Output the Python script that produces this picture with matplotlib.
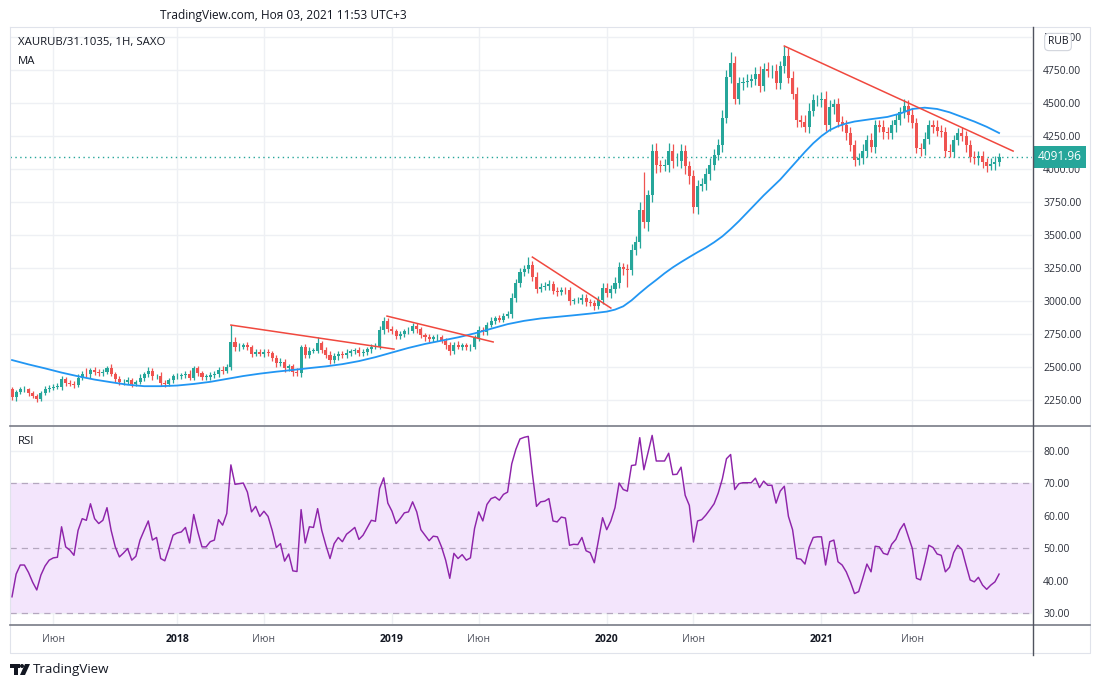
import numpy as np
import matplotlib
matplotlib.use("Agg")
import matplotlib.pyplot as plt
from matplotlib.patches import Rectangle, Polygon, Circle

plt.rcParams['font.family'] = ['Open Sans', 'DejaVu Sans']

# weekly closes, Apr 2017 - Nov 2021
closes = [
    2270, 2310, 2330, 2330, 2300, 2280, 2260, 2300, 2330, 2345,
    2350, 2350, 2410, 2380, 2375, 2365, 2420, 2450, 2445, 2480,
    2460, 2455, 2465, 2490, 2450, 2410, 2385, 2390, 2400, 2375,
    2385, 2420, 2445, 2470, 2430, 2435, 2380, 2375, 2400, 2430,
    2435, 2440, 2450, 2420, 2490, 2455, 2425, 2425, 2440, 2445,
    2480, 2470, 2500, 2690, 2650, 2655, 2665, 2650, 2600, 2615,
    2600, 2615, 2605, 2570, 2530, 2540, 2490, 2505, 2460, 2455,
    2650, 2590, 2625, 2625, 2680, 2630, 2590, 2550, 2580, 2600,
    2590, 2610, 2620, 2630, 2605, 2615, 2635, 2655, 2655, 2780,
    2850, 2790, 2770, 2735, 2750, 2770, 2775, 2810, 2785, 2740,
    2725, 2710, 2725, 2725, 2700, 2665, 2620, 2670, 2655, 2665,
    2650, 2655, 2720, 2780, 2765, 2820, 2850, 2870, 2860, 2890,
    2900, 3020, 3140, 3220, 3240, 3270, 3180, 3090, 3110, 3115,
    3130, 3075, 3070, 3085, 3080, 3000, 3005, 3005, 3025, 2990,
    2985, 2960, 3010, 3100, 3060, 3090, 3140, 3260, 3240, 3235,
    3390, 3450, 3690, 3600, 3800, 4140, 4030, 4025, 4030, 4140,
    4060, 4060, 4140, 4020, 3950, 3710, 3870, 3890, 3960, 4030,
    4110, 4180, 4390, 4700, 4800, 4530, 4650, 4660, 4670, 4680,
    4720, 4630, 4760, 4740, 4745, 4650, 4780, 4860, 4690, 4570,
    4370, 4360, 4320, 4440, 4520, 4520, 4530, 4330, 4470, 4490,
    4360, 4330, 4270, 4180, 4070, 4080, 4140, 4220, 4170, 4330,
    4320, 4280, 4270, 4330, 4370, 4430, 4480, 4410, 4350, 4160,
    4150, 4230, 4330, 4320, 4290, 4280, 4140, 4130, 4220, 4270,
    4250, 4180, 4090, 4080, 4100, 4050, 4020, 4040, 4055, 4091.96,
]
first_open = 2330

# wick lengths above / below the body
wick_up = [
    20, 15, 20, 25, 15, 20, 15, 20, 25, 20, 20, 30, 25, 15, 20, 20, 25, 20, 45, 15,
    20, 25, 20, 20, 30, 15, 20, 20, 25, 20, 20, 25, 20, 30, 20, 15, 25, 20, 15, 20,
    20, 15, 20, 25, 20, 20, 15, 20, 20, 25, 20, 25, 20, 130, 40, 30, 20, 25, 20, 20,
    25, 20, 20, 15, 20, 25, 20, 15, 20, 30, 20, 25, 30, 20, 50, 20, 20, 30, 25, 20,
    20, 25, 20, 15, 20, 25, 20, 20, 25, 30, 30, 25, 20, 20, 25, 20, 30, 25, 20, 20,
    20, 25, 20, 25, 20, 20, 25, 20, 25, 20, 20, 20, 25, 30, 20, 25, 30, 20, 25, 20,
    25, 40, 30, 30, 30, 60, 30, 40, 25, 30, 30, 25, 30, 25, 25, 30, 20, 25, 30, 25,
    25, 20, 30, 40, 40, 30, 40, 35, 30, 40, 40, 40, 60, 290, 40, 50, 60, 40, 45, 60,
    50, 60, 50, 40, 40, 40, 50, 40, 45, 50, 40, 50, 60, 50, 90, 60, 50, 40, 50, 40,
    50, 60, 40, 50, 40, 50, 40, 70, 60, 50, 50, 40, 50, 60, 50, 40, 50, 60, 50, 40,
    50, 40, 40, 50, 40, 40, 50, 40, 50, 40, 40, 50, 40, 40, 50, 40, 50, 40, 50, 40,
    40, 50, 40, 40, 50, 40, 40, 50, 40, 40, 50, 40, 40, 50, 40, 40, 30, 40, 40, 30,
]
wick_dn = [
    20, 25, 15, 20, 20, 15, 25, 20, 15, 20, 20, 15, 25, 20, 20, 25, 15, 20, 20, 25,
    20, 20, 25, 15, 20, 25, 20, 20, 15, 25, 20, 15, 25, 20, 25, 20, 20, 25, 15, 20,
    20, 25, 20, 20, 15, 25, 20, 20, 25, 20, 20, 20, 15, 20, 30, 25, 20, 20, 25, 20,
    20, 25, 20, 25, 30, 20, 25, 20, 25, 20, 30, 20, 25, 20, 20, 25, 20, 30, 20, 25,
    20, 20, 25, 20, 25, 20, 20, 25, 20, 20, 30, 25, 20, 25, 20, 25, 20, 20, 25, 20,
    25, 20, 20, 25, 20, 30, 25, 20, 20, 25, 20, 25, 20, 20, 25, 20, 20, 25, 20, 20,
    20, 30, 25, 30, 30, 30, 30, 30, 25, 30, 30, 25, 30, 25, 30, 30, 25, 20, 30, 25,
    25, 30, 20, 30, 30, 40, 30, 40, 40, 130, 40, 40, 50, 50, 70, 50, 60, 50, 40, 50,
    50, 40, 50, 60, 60, 40, 50, 40, 50, 40, 40, 40, 50, 40, 50, 40, 40, 50, 40, 50,
    40, 50, 40, 40, 50, 40, 40, 50, 40, 40, 50, 40, 40, 50, 40, 40, 50, 40, 40, 50,
    40, 40, 50, 40, 50, 40, 40, 50, 40, 50, 40, 50, 40, 40, 50, 40, 40, 50, 40, 40,
    50, 40, 40, 50, 40, 40, 50, 40, 40, 40, 40, 50, 40, 40, 50, 40, 40, 30, 50, 30,
]

# moving average, sampled along the line
ma_week = [0, 4, 8, 12, 16, 20, 24, 28, 32, 36, 40, 44, 48, 52, 56, 60, 64, 68, 72, 76,
           80, 84, 88, 92, 96, 100, 104, 108, 112, 116, 120, 124, 128, 132, 136, 140,
           144, 146, 148, 150, 152, 154, 156, 158, 160, 162, 164, 166, 168, 170, 172,
           174, 176, 178, 180, 182, 184, 186, 188, 190, 192, 194, 196, 198, 200, 202,
           204, 208, 212, 215, 218, 221, 224, 227, 230, 233, 236, 239]
ma_val = [2553, 2520, 2490, 2458, 2430, 2405, 2385, 2366, 2355, 2355, 2360, 2372, 2388,
          2410, 2432, 2450, 2465, 2478, 2492, 2505, 2522, 2545, 2575, 2610, 2645, 2675,
          2700, 2725, 2755, 2790, 2825, 2850, 2868, 2880, 2892, 2905, 2920, 2935, 2960,
          3005, 3060, 3112, 3160, 3210, 3255, 3295, 3333, 3370, 3405, 3445, 3490, 3545,
          3605, 3670, 3735, 3800, 3860, 3920, 3990, 4060, 4130, 4195, 4250, 4295, 4325,
          4345, 4360, 4378, 4395, 4420, 4455, 4465, 4455, 4430, 4395, 4360, 4320, 4273]

# drawn trend lines: (week start, week end, price start, price end)
trend_w0 = [53, 90.8, 126, 187]
trend_w1 = [92.5, 116.5, 145, 242.4]
trend_p0 = [2818, 2886, 3333, 4932]
trend_p1 = [2636, 2690, 2947, 4136]

# weekly RSI
rsi = [
    35, 42, 44.8, 44.8, 42.5, 39.5, 37.1, 41.7, 44.5, 46.3,
    47, 47.2, 56.6, 50.4, 49.4, 47.8, 55.5, 59.1, 58.6, 63.7,
    59.1, 57.6, 58.6, 62.5, 55.5, 50.4, 47.3, 48.5, 49.9, 46.3,
    47.5, 52.5, 55.5, 58.4, 52.5, 53.3, 46.8, 46.1, 49.9, 54,
    54.7, 55, 56.4, 51.6, 60.4, 55, 50.4, 50.4, 52, 52.5,
    58.8, 57.1, 60.7, 75.7, 69.7, 69.9, 70.1, 67.3, 61.2, 62.9,
    59.8, 61.4, 59.8, 55.5, 50.2, 51.4, 46, 48.2, 43, 42.8,
    61.9, 51.6, 56.6, 56.4, 62.2, 55.5, 50.9, 46.8, 51.4, 53.3,
    52, 54.3, 55.3, 56.4, 52.7, 54, 56.3, 58.6, 58.3, 68.4,
    71.7, 63.9, 61.4, 57.6, 59.1, 60.9, 61.2, 64.3, 61.2, 55.7,
    54, 52.3, 53.7, 53.5, 50.4, 46.3, 40.7, 48.4, 46.8, 48,
    46.3, 47, 56.1, 61.2, 58.4, 63.5, 65.3, 65.8, 64.8, 66.6,
    67.3, 76, 80.5, 83.7, 84.2, 84.5, 73, 62.9, 64.3, 64.5,
    65.3, 58.4, 58.1, 59.6, 59.3, 50.9, 51.2, 51.1, 53.3, 49.2,
    48.6, 45.5, 52.5, 59.4, 55.7, 58.4, 62.5, 70.1, 68.1, 67.6,
    75.5, 75.7, 84.1, 74.2, 79.5, 84.8, 76.9, 76.9, 76.9, 79.3,
    72.7, 72.8, 75, 66.3, 63.2, 51.9, 58.4, 58.8, 60.2, 61.9,
    63.7, 67, 71.4, 77.6, 78.9, 68.1, 69.9, 70.2, 70.2, 70.2,
    71.6, 68.7, 70.7, 69.4, 69.4, 63.9, 67.6, 69.1, 59.8, 55.7,
    46.8, 46.6, 45.1, 50.2, 53.3, 53.5, 53.5, 44.8, 52, 52.5,
    45.8, 44.8, 42.7, 39.6, 36, 36.6, 40.7, 45.1, 42.7, 50.6,
    50.4, 48.4, 48, 51.2, 52.7, 55.7, 57.6, 53.7, 49.9, 40.7,
    40.2, 45.3, 50.9, 50.2, 48.2, 47.8, 42.7, 44.1, 48.6, 50.9,
    49.6, 44.8, 40.2, 39.6, 41, 38.6, 37.3, 38.6, 39.6, 42,
]

tick_week = [10, 40, 61, 92, 113, 144, 165, 196, 218]
tick_text = ['Июн', '2018', 'Июн', '2019', 'Июн', '2020', 'Июн', '2021', 'Июн']
price_ticks = list(range(2250, 5001, 250))
rsi_ticks = [30, 40, 50, 60, 70, 80]

UP = '#26a69a'
DOWN = '#ef5350'
GRID = '#eef0f4'
TXT = '#131722'

c = np.array(closes, dtype=float)
o = np.concatenate([[first_open], c[:-1]])
top = np.maximum(o, c)
bot = np.minimum(o, c)
hi = top + np.array(wick_up)
lo = bot - np.array(wick_dn)
idx = np.arange(len(c))
cols = np.where(c >= o, UP, DOWN)

W, H = 1100, 688
fig = plt.figure(figsize=(11, 6.88), dpi=100)
fig.patch.set_facecolor('white')

left, right = 10, 1032
ax = fig.add_axes([left / W, 1 - 425 / H, (right - left) / W, (425 - 27) / H])
ax2 = fig.add_axes([left / W, 1 - 624 / H, (right - left) / W, (624 - 426) / H])

# week -> pixel mapping: x = 12 + 4.13 * week
xl = ((left - 12) / 4.13, (right - 12) / 4.13)

for a in (ax, ax2):
    a.set_xlim(*xl)
    for s in a.spines.values():
        s.set_visible(False)
    for w in tick_week:
        a.axvline(w, color=GRID, lw=1, zorder=0)

# ---- price pane
ax.set_ylim(2061, 5076)
for p in price_ticks:
    ax.axhline(p, color=GRID, lw=1, zorder=0)
ax.yaxis.tick_right()
ax.set_yticks(price_ticks)
ax.set_yticklabels([f'{p:.2f}' for p in price_ticks])
ax.tick_params(axis='y', length=0, pad=8, labelsize=7.5, labelcolor='#2a2e39')
ax.tick_params(axis='x', length=0, labelbottom=False)

ax.vlines(idx, lo, hi, colors=cols, lw=0.9, zorder=3)
ax.bar(idx, np.maximum(top - bot, 4), bottom=bot, width=0.74, color=cols, lw=0, zorder=4)

ax.plot(ma_week, ma_val, color='#2196f3', lw=1.3, zorder=5)
for i in range(len(trend_w0)):
    ax.plot([trend_w0[i], trend_w1[i]], [trend_p0[i], trend_p1[i]], color='#f0483e', lw=1.1, zorder=6)

last = closes[-1]
ax.axhline(last, color=UP, lw=1, linestyle=(0, (1, 2.5)), zorder=2)
ax.annotate(f'{last:.2f}', xy=(1.0, last), xycoords=('axes fraction', 'data'),
            xytext=(4, 0), textcoords='offset points', ha='left', va='center',
            fontsize=8.6, color='white', annotation_clip=False,
            bbox=dict(boxstyle='square,pad=0.4', fc=UP, ec='none'))

# ---- RSI pane
ax2.set_ylim(26.6, 87.7)
for r in rsi_ticks:
    ax2.axhline(r, color=GRID, lw=1, zorder=0)
ax2.axhspan(30, 70, color='#f3e5fc', zorder=0.5, lw=0)
for r in (30, 50, 70):
    ax2.axhline(r, color='#b4a7bf', lw=0.9, linestyle=(0, (5, 4)), zorder=1)
ax2.plot(idx, rsi, color='#8e24aa', lw=1.05, zorder=3)
ax2.yaxis.tick_right()
ax2.set_yticks(rsi_ticks)
ax2.set_yticklabels([f'{r:.2f}' for r in rsi_ticks])
ax2.tick_params(axis='y', length=0, pad=8, labelsize=7.5, labelcolor='#2a2e39')
ax2.set_xticks(tick_week)
ax2.set_xticklabels(tick_text)
ax2.tick_params(axis='x', length=0, pad=7, labelsize=7.5, labelcolor='#50535e')
for lab in ax2.get_xticklabels():
    if lab.get_text().isdigit():
        lab.set_fontweight('bold')
        lab.set_color(TXT)

# ---- overlay in pixel coordinates: frame, separators, labels
ov = fig.add_axes([0, 0, 1, 1], zorder=10)
ov.set_xlim(0, W)
ov.set_ylim(H, 0)
ov.axis('off')
ov.plot([10, 1090, 1090, 10, 10], [27, 27, 653, 653, 27], color='#e0e3eb', lw=0.8)
ov.plot([10, 1090], [425.5, 425.5], color='#787b86', lw=1.2)
ov.plot([10, 1090], [624.5, 624.5], color='#787b86', lw=1.2)
ov.plot([1032.5, 1032.5], [27, 655], color='#50535e', lw=1.0)

ov.text(160, 15, 'TradingView.com, Ноя 03, 2021 11:53 UTC+3', fontsize=8.6, color=TXT, va='center')
ov.text(18, 43, 'XAURUB/31.1035, 1H, SAXO', fontsize=8.2, color=TXT, va='center')
ov.text(18, 62, 'MA', fontsize=8.2, color=TXT, va='center')
ov.text(18, 441, 'RSI', fontsize=8.2, color=TXT, va='center')
ov.text(1058, 42, 'RUB', fontsize=7.5, color=TXT, ha='center', va='center',
        bbox=dict(boxstyle='round,pad=0.3,rounding_size=0.4', fc='white', ec='#d1d4dc', lw=0.8))

# TradingView logo
ov.add_patch(Rectangle((10, 664), 10, 4, color='#131722', lw=0))
ov.add_patch(Rectangle((14, 664), 4, 11, color='#131722', lw=0))
ov.add_patch(Circle((22, 666), 2, color='#131722', lw=0))
ov.add_patch(Polygon([(25, 664), (30, 664), (25, 675), (20, 675)], closed=True, color='#131722', lw=0))
ov.text(33, 670, 'TradingView', fontsize=9.6, color=TXT, va='center')

fig.savefig('out.png', dpi=100, facecolor='white')
